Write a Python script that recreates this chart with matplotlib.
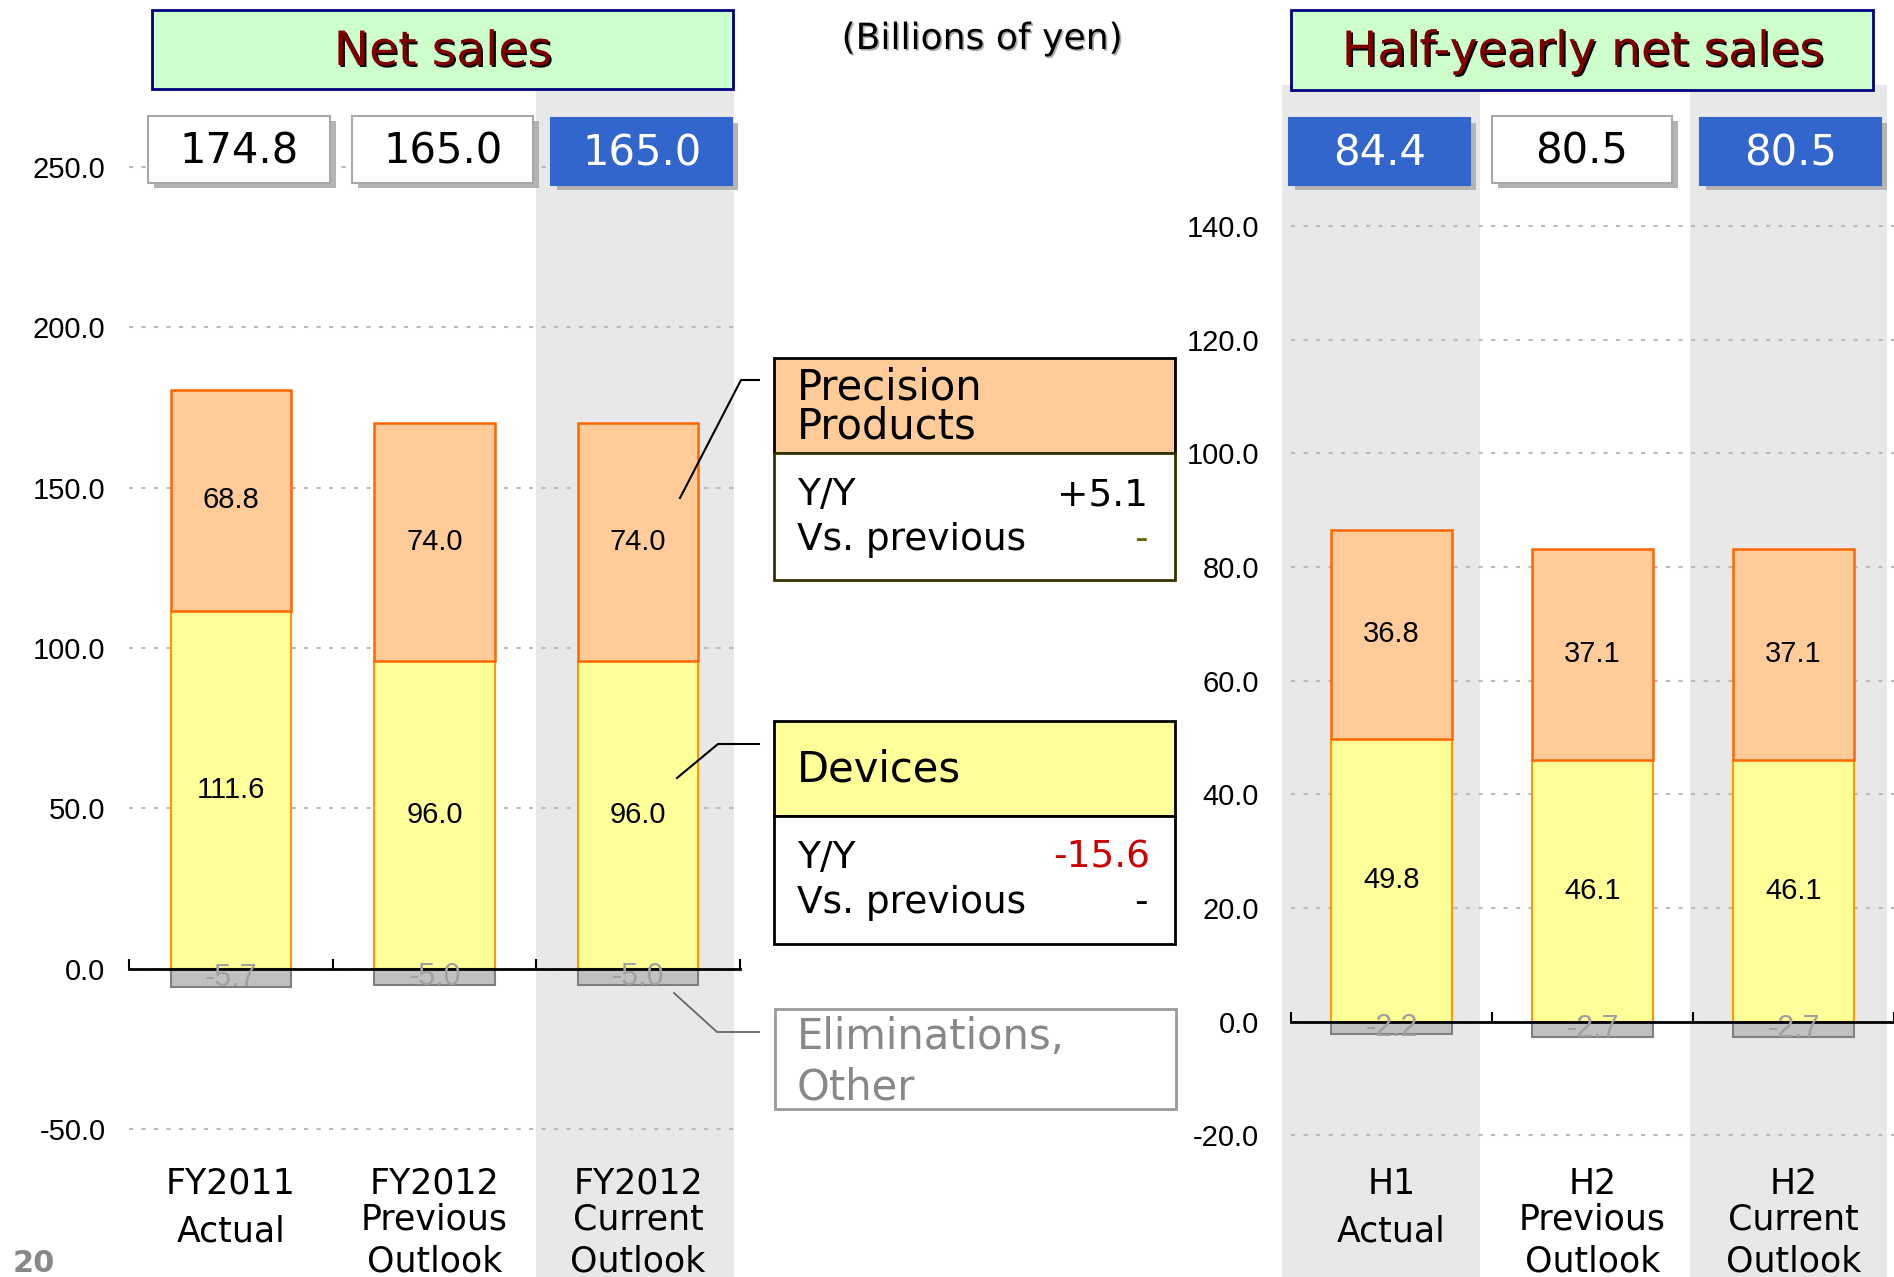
import matplotlib
matplotlib.use("Agg")
import matplotlib.pyplot as plt
from matplotlib.patches import Rectangle
from matplotlib.lines import Line2D
from matplotlib.transforms import blended_transform_factory, offset_copy
import matplotlib.patheffects as pe

# ---------------- data ----------------
fy_categories = ["FY2011\nActual", "FY2012\nPrevious\nOutlook", "FY2012\nCurrent\nOutlook"]
fy_devices = [111.6, 96.0, 96.0]
fy_precision = [68.8, 74.0, 74.0]
fy_elim = [-5.7, -5.0, -5.0]
fy_totals = ["174.8", "165.0", "165.0"]
fy_highlight = [False, False, True]
fy_yticks = [-50, 0, 50, 100, 150, 200, 250]

half_categories = ["H1\nActual", "H2\nPrevious\nOutlook", "H2\nCurrent\nOutlook"]
half_devices = [49.8, 46.1, 46.1]
half_precision = [36.8, 37.1, 37.1]
half_elim = [-2.2, -2.7, -2.7]
half_totals = ["84.4", "80.5", "80.5"]
half_highlight = [True, False, True]
half_yticks = [-20, 0, 20, 40, 60, 80, 100, 120, 140]

precision_yy = "+5.1"
precision_prev = "-"
devices_yy = "-15.6"
devices_prev = "-"

# ---------------- styles ----------------
W, H, DPI = 1894, 1277, 100
C_DEV, C_DEV_EDGE = "#FFFF99", "#FF9900"
C_PRE, C_PRE_EDGE = "#FFCC99", "#FF6600"
C_ELI, C_ELI_EDGE = "#C0C0C0", "#808080"
C_SHADE = "#E8E8E8"
C_BLUE = "#3366CC"
C_GRID = "#BBBBBB"
NUMFONT = "Liberation Sans"
TXTFONT = "DejaVu Sans"

fig = plt.figure(figsize=(W / DPI, H / DPI), dpi=DPI)
fig.patch.set_facecolor("white")


def add_rect(x0, y0, x1, y1, **kw):
    r = Rectangle((x0 / W, 1 - y1 / H), (x1 - x0) / W, (y1 - y0) / H,
                  transform=fig.transFigure, **kw)
    fig.add_artist(r)
    return r


def add_text(x, y, s, **kw):
    return fig.text(x / W, 1 - y / H, s, **kw)


def add_line(xs, ys, **kw):
    fig.add_artist(Line2D([x / W for x in xs], [1 - y / H for y in ys],
                          transform=fig.transFigure, **kw))


def make_ax(x0, x1, zero_px, ppu, ylo, yhi):
    ytop = zero_px - yhi * ppu
    ybot = zero_px - ylo * ppu
    ax = fig.add_axes([x0 / W, 1 - ybot / H, (x1 - x0) / W, (ybot - ytop) / H])
    ax.set_xlim(-0.5, 2.5)
    ax.set_ylim(ylo, yhi)
    ax.patch.set_visible(False)
    return ax


def draw_chart(ax, cats, dev, pre, eli, totals, highlight, yticks,
               bar_w, label_pad, shade_spans, shade_top, box_off, box_w):
    n = len(cats)
    xs = list(range(n))
    bt = blended_transform_factory(ax.transData, fig.transFigure)
    for (a, b) in shade_spans:
        r = Rectangle((a, 0), b - a, 1 - shade_top / H, transform=bt,
                      facecolor=C_SHADE, edgecolor="none", zorder=-1)
        fig.add_artist(r)

    ax.set_yticks(yticks)
    ax.set_yticklabels([f"{t:.1f}" for t in yticks], fontsize=21,
                       fontfamily=NUMFONT)
    ax.tick_params(axis="y", length=0, pad=label_pad)
    ax.yaxis.grid(True, color=C_GRID, linestyle=(0, (2, 4)), linewidth=1.5)
    ax.set_axisbelow(True)
    for s in ("left", "right", "top"):
        ax.spines[s].set_visible(False)
    ax.spines["bottom"].set_position(("data", 0))
    ax.spines["bottom"].set_linewidth(2)
    ax.spines["bottom"].set_zorder(4)
    ax.set_xticks([i - 0.5 for i in range(n + 1)])
    ax.tick_params(axis="x", direction="in", length=7.5, width=1.5,
                   labelbottom=False)

    ax.bar(xs, dev, width=bar_w, color=C_DEV, edgecolor=C_DEV_EDGE,
           linewidth=1.5, zorder=2)
    ax.bar(xs, pre, bottom=dev, width=bar_w, color=C_PRE, edgecolor=C_PRE_EDGE,
           linewidth=1.8, zorder=2)
    ax.bar(xs, eli, width=bar_w, color=C_ELI, edgecolor=C_ELI_EDGE,
           linewidth=1.5, zorder=2)
    for i in xs:
        ax.text(i, dev[i] / 2, f"{dev[i]:.1f}", ha="center", va="center",
                fontsize=21, fontfamily=NUMFONT, zorder=5)
        ax.text(i, dev[i] + pre[i] / 2, f"{pre[i]:.1f}", ha="center",
                va="center", fontsize=21, fontfamily=NUMFONT, zorder=5)
        ax.text(i, eli[i] / 2, f"{eli[i]:.1f}", ha="center", va="center",
                fontsize=22, fontfamily=NUMFONT, color="#A0A0A0", zorder=5)

    for i in xs:
        hl = highlight[i]
        y0, y1 = (118, 185) if hl else (116, 183)
        cx = i + box_off[i]
        shadow_t = offset_copy(bt, fig=fig, x=6, y=-5, units="dots")
        fig.add_artist(Rectangle((cx - box_w / 2, 1 - y1 / H), box_w, (y1 - y0) / H,
                                 transform=shadow_t, facecolor="#B4B4B4",
                                 edgecolor="none", zorder=2))
        fig.add_artist(Rectangle((cx - box_w / 2, 1 - y1 / H), box_w, (y1 - y0) / H,
                                 transform=bt,
                                 facecolor=C_BLUE if hl else "white",
                                 edgecolor=C_BLUE if hl else "#A8A8A8",
                                 linewidth=1.5, zorder=3))
        fig.text(cx, 1 - (y1 - 20) / H, totals[i], transform=bt, ha="center",
                 va="baseline", fontsize=30, fontfamily=TXTFONT,
                 color="white" if hl else "black", zorder=4)

    for i, c in enumerate(cats):
        lines = c.split("\n")
        baselines = [1194, 1242] if len(lines) == 2 else [1194, 1229, 1272]
        for s, yb in zip(lines, baselines):
            fig.text(i, 1 - yb / H, s, transform=bt, ha="center", va="baseline",
                     fontsize=25, fontfamily=TXTFONT, color="black", zorder=4)


# ---------------- left chart: Net sales ----------------
axL = make_ax(129, 740, 968.6, 3.207, -70, 265)
draw_chart(axL, fy_categories, fy_devices, fy_precision, fy_elim, fy_totals,
           fy_highlight, fy_yticks, bar_w=0.59, label_pad=17,
           shade_spans=[(1.5, 2.47)], shade_top=89,
           box_off=[0.04, 0.04, 0.017], box_w=0.89)

# ---------------- right chart: Half-yearly ----------------
axR = make_ax(1291, 1894, 1021.8, 5.683, -30, 150)
draw_chart(axR, half_categories, half_devices, half_precision, half_elim,
           half_totals, half_highlight, half_yticks, bar_w=0.60, label_pad=23,
           shade_spans=[(-0.545, 0.44), (1.485, 2.465)], shade_top=85,
           box_off=[-0.06, -0.052, -0.015], box_w=0.90)

# ---------------- title boxes ----------------
shadow_fx = [pe.withSimplePatchShadow(offset=(1.4, -1.4), shadow_rgbFace="black",
                                      alpha=1.0)]
add_rect(152, 10, 733, 89, facecolor="#CCFFCC", edgecolor="#000080",
         linewidth=2, zorder=3)
add_text(443, 65, "Net sales", ha="center", va="baseline", fontsize=34,
         fontfamily=TXTFONT, color="#800000", path_effects=shadow_fx, zorder=4)
add_rect(1291, 10, 1873, 90, facecolor="#CCFFCC", edgecolor="#000080",
         linewidth=2, zorder=3)
add_text(1583, 65, "Half-yearly net sales", ha="center", va="baseline",
         fontsize=34, fontfamily=TXTFONT, color="#800000",
         path_effects=shadow_fx, zorder=4)
add_text(982, 49, "(Billions of yen)", ha="center", va="baseline", fontsize=26,
         fontfamily=TXTFONT, color="black",
         path_effects=[pe.withSimplePatchShadow(offset=(1.2, -1.2),
                                                shadow_rgbFace="#999999",
                                                alpha=0.8)], zorder=4)

# ---------------- legend / commentary boxes ----------------
add_rect(774, 358, 1175, 453, facecolor=C_PRE, edgecolor="black", linewidth=2, zorder=3)
add_rect(774, 453, 1175, 580, facecolor="white", edgecolor="#333300", linewidth=2, zorder=3)
add_text(797, 399, "Precision", fontsize=30, fontfamily=TXTFONT, va="baseline", zorder=4)
add_text(797, 438, "Products", fontsize=30, fontfamily=TXTFONT, va="baseline", zorder=4)
add_text(797, 505, "Y/Y", fontsize=27, fontfamily=TXTFONT, va="baseline", zorder=4)
add_text(1148, 505, precision_yy, fontsize=27, fontfamily=TXTFONT, va="baseline",
         ha="right", zorder=4)
add_text(797, 550, "Vs. previous", fontsize=27, fontfamily=TXTFONT, va="baseline", zorder=4)
add_text(1148, 550, precision_prev, fontsize=27, fontfamily=TXTFONT, va="baseline",
         ha="right", color="#666600", zorder=4)

add_rect(774, 721, 1175, 816, facecolor=C_DEV, edgecolor="black", linewidth=2, zorder=3)
add_rect(774, 816, 1175, 944, facecolor="white", edgecolor="black", linewidth=2, zorder=3)
add_text(797, 781, "Devices", fontsize=30, fontfamily=TXTFONT, va="baseline", zorder=4)
add_text(797, 868, "Y/Y", fontsize=27, fontfamily=TXTFONT, va="baseline", zorder=4)
add_text(1150, 868, devices_yy, fontsize=27, fontfamily=TXTFONT, va="baseline",
         ha="right", color="#CC0000", zorder=4)
add_text(797, 913, "Vs. previous", fontsize=27, fontfamily=TXTFONT, va="baseline", zorder=4)
add_text(1148, 913, devices_prev, fontsize=27, fontfamily=TXTFONT, va="baseline",
         ha="right", zorder=4)

add_rect(775, 1009, 1176, 1109, facecolor="white", edgecolor="#999999",
         linewidth=2, zorder=3)
add_text(797, 1049, "Eliminations,", fontsize=30, fontfamily=TXTFONT,
         va="baseline", color="#888888", zorder=4)
add_text(797, 1099, "Other", fontsize=30, fontfamily=TXTFONT, va="baseline",
         color="#888888", zorder=4)

add_line([680, 741, 759], [498, 380, 380], color="black", linewidth=1.5, zorder=5)
add_line([677, 718, 759], [778, 744, 744], color="black", linewidth=1.5, zorder=5)
add_line([674, 717, 759], [993, 1032, 1032], color="#666666", linewidth=1.3, zorder=5)

add_text(13, 1272, "20", fontsize=22, fontweight="bold", fontfamily=TXTFONT,
         color="#888888", va="baseline")

fig.savefig("out.png", dpi=DPI)
